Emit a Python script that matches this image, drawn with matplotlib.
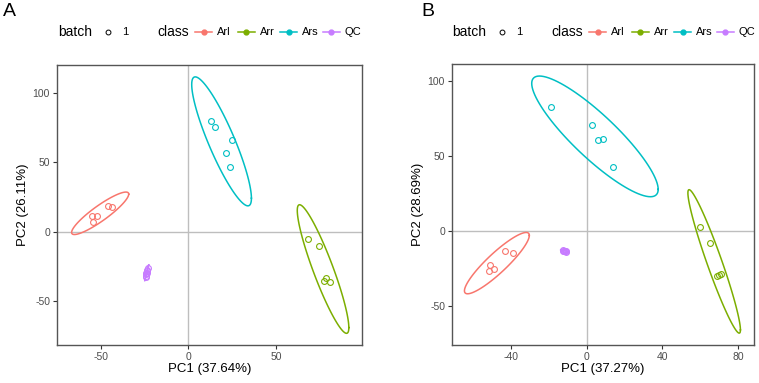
import numpy as np
import matplotlib
matplotlib.use('Agg')
from matplotlib import pyplot as plt
from matplotlib.lines import Line2D

plt.rcParams['font.family'] = ['Liberation Sans', 'DejaVu Sans']
plt.rcParams['axes.unicode_minus'] = False

classes = ['Arl', 'Arr', 'Ars', 'QC']
colors = ['#F8766D', '#7CAE00', '#00BFC4', '#C77CFF']

# panel A scores
a_arl_pc1 = [-54.9, -52.4, -54.2, -46.1, -43.6]
a_arl_pc2 = [11.5, 11.5, 7.2, 18.7, 17.6]
a_arr_pc1 = [68.2, 74.5, 78.7, 77.5, 80.6]
a_arr_pc2 = [-5.0, -10.1, -33.1, -35.3, -36.0]
a_ars_pc1 = [13.0, 14.9, 24.6, 21.5, 23.8]
a_ars_pc2 = [79.9, 75.1, 66.2, 56.4, 46.3]
a_qc_pc1 = [-24.4, -24.2, -24.0, -23.8, -23.6, -23.4, -23.2, -24.1]
a_qc_pc2 = [-32.5, -31.5, -30.5, -29.5, -28.5, -27.5, -26.3, -30.0]

# panel B scores
b_arl_pc1 = [-51.0, -51.6, -48.9, -43.1, -39.1]
b_arl_pc2 = [-22.9, -26.9, -25.3, -13.1, -14.5]
b_arr_pc1 = [59.8, 65.2, 68.6, 69.7, 70.9]
b_arr_pc2 = [2.9, -8.2, -30.2, -29.5, -28.5]
b_ars_pc1 = [-19.0, 2.8, 6.0, 8.8, 14.0]
b_ars_pc2 = [82.9, 70.7, 60.9, 61.3, 42.9]
b_qc_pc1 = [-12.7, -12.3, -12.0, -11.6, -11.2, -10.8]
b_qc_pc2 = [-13.0, -13.4, -13.2, -13.6, -13.9, -13.5]

a_xlabel = 'PC1 (37.64%)'
a_ylabel = 'PC2 (26.11%)'
b_xlabel = 'PC1 (37.27%)'
b_ylabel = 'PC2 (28.69%)'
a_xticks = [-50, 0, 50]
b_xticks = [-40, 0, 40, 80]
yticks = [-50, 0, 50, 100]


def cov_trob(x, nu=5, maxit=25, tol=0.01):
    # same as MASS::cov.trob used by ggplot2 stat_ellipse
    n, p = x.shape
    loc = x.mean(axis=0)
    w = np.ones(n)
    for _ in range(maxit):
        w0 = w
        X = x - loc
        _, d, vt = np.linalg.svd(np.sqrt(w / w.sum())[:, None] * X, full_matrices=False)
        wX = X @ vt.T @ np.diag(1 / d)
        Q = (wX ** 2).sum(axis=1)
        w = (nu + p) / (nu + Q)
        loc = (w[:, None] * x).sum(axis=0) / w.sum()
        if np.all(np.abs(w - w0) < tol):
            break
    cov = (np.sqrt(w)[:, None] * X).T @ (np.sqrt(w)[:, None] * X) / n
    return loc, cov


def ellipse(px, py, level=0.95, segs=100):
    x = np.column_stack([px, py])
    n = len(px)
    center, shape = cov_trob(x)
    d2 = n - 1
    fq = d2 / 2 * ((1 - level) ** (-2 / d2) - 1)  # qf(level, 2, n-1)
    radius = np.sqrt(2 * fq)
    ang = np.linspace(0, 2 * np.pi, segs + 1)
    circ = np.column_stack([np.cos(ang), np.sin(ang)])
    chol = np.linalg.cholesky(shape).T
    pts = center + radius * circ @ chol
    return pts[:, 0], pts[:, 1]


def draw_panel(ax, groups, xlabel, ylabel, xticks, xlim, ylim):
    ax.axhline(0, color='#BEBEBE', lw=1.0, zorder=0)
    ax.axvline(0, color='#BEBEBE', lw=1.0, zorder=0)
    for (gx, gy), col in zip(groups, colors):
        ex, ey = ellipse(gx, gy)
        ax.plot(ex, ey, color=col, lw=1.1)
        ax.plot(gx, gy, 'o', mfc='none', mec=col, ms=4.2, mew=0.8)
    ax.set_xlim(xlim)
    ax.set_ylim(ylim)
    ax.set_xticks(xticks)
    ax.set_yticks(yticks)
    ax.set_xlabel(xlabel, fontsize=9.5, labelpad=1)
    ax.set_ylabel(ylabel, fontsize=9.5, labelpad=3)
    ax.tick_params(labelsize=7.5, labelcolor='#4D4D4D', color='#333333',
                   length=3, width=0.8, pad=2)
    for s in ax.spines.values():
        s.set_color('#555555')
        s.set_linewidth(1.0)


def draw_legend(fig, x0, y):
    W = 759.0
    fx = lambda px: px / W
    fig.text(fx(x0), y, 'batch', fontsize=10, va='center', ha='left')
    fig.add_artist(Line2D([fx(x0 + 50)], [y], marker='o', mfc='none', mec='black',
                          ms=3.5, mew=0.7, transform=fig.transFigure))
    fig.text(fx(x0 + 64), y, '1', fontsize=8, va='center', ha='left')
    fig.text(fx(x0 + 99), y, 'class', fontsize=10, va='center', ha='left')
    start = x0 + 137
    for i, (c, col) in enumerate(zip(classes, colors)):
        lx = start + i * 42.5
        fig.add_artist(Line2D([fx(lx), fx(lx + 17)], [y, y], color=col, lw=1.1,
                              transform=fig.transFigure))
        fig.add_artist(Line2D([fx(lx + 8.5)], [y], marker='o', color=col, ms=3.5,
                              transform=fig.transFigure))
        fig.text(fx(lx + 22), y, c, fontsize=8, va='center', ha='left')


fig = plt.figure(figsize=(7.59, 3.83), dpi=100)
axA = fig.add_axes([57 / 759, 38 / 383, 305 / 759, 280 / 383])
axB = fig.add_axes([452 / 759, 38 / 383, 302 / 759, 281 / 383])

draw_panel(axA, [(a_arl_pc1, a_arl_pc2), (a_arr_pc1, a_arr_pc2),
                 (a_ars_pc1, a_ars_pc2), (a_qc_pc1, a_qc_pc2)],
           a_xlabel, a_ylabel, a_xticks, (-75, 99), (-81.5, 120))
draw_panel(axB, [(b_arl_pc1, b_arl_pc2), (b_arr_pc1, b_arr_pc2),
                 (b_ars_pc1, b_ars_pc2), (b_qc_pc1, b_qc_pc2)],
           b_xlabel, b_ylabel, b_xticks, (-71.2, 88.4), (-76, 111.3))

fig.text(3 / 759, 1 - 11 / 383, 'A', fontsize=14, va='center', ha='left')
fig.text(421 / 759, 1 - 11 / 383, 'B', fontsize=14, va='center', ha='left')
draw_legend(fig, 58, 1 - 32 / 383)
draw_legend(fig, 452, 1 - 32 / 383)

fig.savefig('out.png', dpi=100)
